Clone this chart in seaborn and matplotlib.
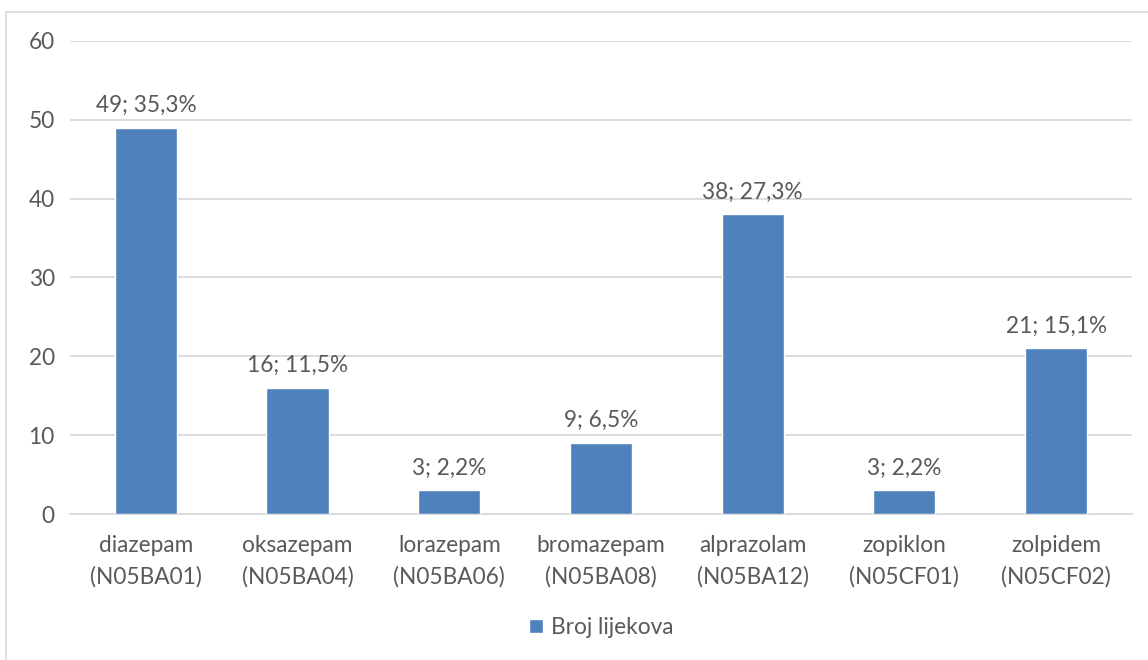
import seaborn as sns
import matplotlib.pyplot as plt
import pandas as pd
from matplotlib.patches import Rectangle

# Data
drugs = ['diazepam\n(N05BA01)', 'oksazepam\n(N05BA04)', 'lorazepam\n(N05BA06)',
         'bromazepam\n(N05BA08)', 'alprazolam\n(N05BA12)', 'zopiklon\n(N05CF01)',
         'zolpidem\n(N05CF02)']
counts = [49, 16, 3, 9, 38, 3, 21]
shares = ['35,3%', '11,5%', '2,2%', '6,5%', '27,3%', '2,2%', '15,1%']

df = pd.DataFrame({'Lijek': drugs, 'Broj lijekova': counts})

sns.set_style('white')
plt.rcParams['font.family'] = ['Lato', 'DejaVu Sans']

text_color = '#595959'
bar_color = '#4F81BD'
fs = 16.3

fig = plt.figure(figsize=(11.48, 6.60), dpi=100)
ax = fig.add_axes([0.061, 0.2212, 0.925, 0.7167])

sns.barplot(x='Lijek', y='Broj lijekova', data=df, color=bar_color,
            saturation=1, width=0.41, ax=ax, label='Broj lijekova', zorder=3)

# Value labels above bars
for i, (c, s) in enumerate(zip(counts, shares)):
    ax.text(i, c + 1.5, f'{c}; {s}', ha='center', va='bottom',
            fontsize=fs, color=text_color)

ax.set_ylim(0, 60)
ax.set_yticks(range(0, 61, 10))
ax.set_xlim(-0.5, len(drugs) - 0.5)
ax.grid(axis='y', color='#D9D9D9', linewidth=1.3, zorder=0)
ax.set_xlabel('')
ax.set_ylabel('')
for side in ['top', 'right', 'left']:
    ax.spines[side].set_visible(False)
ax.spines['bottom'].set_color('#D9D9D9')
ax.spines['bottom'].set_linewidth(1.3)
ax.tick_params(axis='both', length=0, labelsize=fs, colors=text_color)
ax.tick_params(axis='x', pad=15)
ax.tick_params(axis='y', pad=11)
for lbl in ax.get_xticklabels():
    lbl.set_linespacing(1.6)

leg = ax.legend(loc='center', bbox_to_anchor=(0.5, -0.24), frameon=False,
                fontsize=fs, handlelength=0.62, handleheight=0.62,
                handletextpad=0.35)
for t in leg.get_texts():
    t.set_color(text_color)

# Chart border
fig.patches.append(Rectangle((6 / 1148, -0.01), 1.1, 1 - 12 / 660 + 0.01,
                             transform=fig.transFigure, fill=False,
                             edgecolor='#D9D9D9', linewidth=1.2))

fig.savefig('out.png', dpi=100)
